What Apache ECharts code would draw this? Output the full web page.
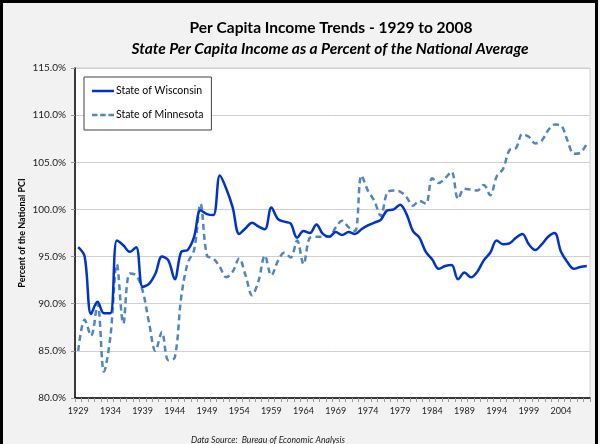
<!DOCTYPE html>
<html>
<head>
<meta charset="utf-8">
<script src="https://cdn.jsdelivr.net/npm/echarts@6/dist/echarts.min.js"></script>
<style>
html,body{margin:0;padding:0;background:#fff;}
#c{width:600px;height:444px;}
</style>
</head>
<body>
<div id="c"></div>
<script>
var startYear = 1929, endYear = 2008;
var years = [];
for (var y = startYear; y <= endYear; y++) years.push(String(y));

var wisconsin = [
 96.0, 95.0, 88.9, 90.2, 89.0, 89.0, 96.7, 96.2, 95.5, 96.0,
 91.8, 92.1, 93.2, 95.0, 94.6, 92.6, 95.5, 95.7, 97.1, 99.9,
 99.5, 99.4, 103.6, 102.2, 100.2, 97.4, 98.0, 98.6, 98.2, 97.9,
 100.2, 99.0, 98.7, 98.5, 97.0, 97.7, 97.5, 98.4, 97.4, 97.1,
 97.6, 97.3, 97.6, 97.4, 97.9, 98.3, 98.6, 98.9, 99.9, 100.0,
 100.5, 99.5, 97.7, 97.0, 95.5, 94.7, 93.7, 94.0, 94.1, 92.6,
 93.3, 92.8, 93.4, 94.6, 95.4, 96.7, 96.3, 96.4, 97.0, 97.4,
 96.3, 95.7, 96.3, 97.1, 97.5, 95.5, 94.4, 93.7, 93.9, 94.0
];
var minnesota = [
 85.0, 88.3, 86.6, 90.0, 82.8, 86.5, 94.2, 87.9, 93.2, 93.0,
 91.4, 88.0, 85.0, 87.0, 84.0, 84.3, 90.7, 94.3, 95.7, 100.6,
 95.1, 94.8, 93.9, 92.8, 93.4, 94.8, 93.0, 90.9, 92.4, 95.1,
 93.0, 94.5, 95.4, 94.9, 96.7, 94.2, 97.0, 97.1, 97.1, 97.1,
 98.1, 98.8, 98.1, 97.7, 103.6, 102.0, 100.9, 99.3, 101.8, 102.0,
 101.9, 101.3, 100.4, 100.9, 100.6, 103.3, 102.8, 103.3, 104.0, 101.1,
 102.2, 102.1, 102.0, 102.6, 101.5, 103.5, 104.3, 106.3, 106.5, 108.0,
 107.7, 107.0, 107.3, 108.4, 109.0, 108.9, 107.3, 105.9, 106.0, 107.0
];
var yMin = 80, yMax = 115, yStep = 5;
var titleText = 'Per Capita Income Trends - 1929 to 2008';
var subtitleText = 'State Per Capita Income as a Percent of the National Average';
var yAxisTitle = 'Percent of the National PCI';
var sourceText = 'Data Source:  Bureau of Economic Analysis';

var corners = ' M0,0h0.01v0.01h-0.01z M22,14h-0.01v-0.01h0.01z';
var iconSolid = 'path://M0,5.8h22v2.4h-22z' + corners;
var iconDash = 'path://M0,5.8h5.5v2.4h-5.5z M8.2,5.8h5.5v2.4h-5.5z M16.4,5.8h5.6v2.4h-5.6z' + corners;

var chart = echarts.init(document.getElementById('c'), null, {renderer: 'canvas'});
var font = 'Lato, "Liberation Sans", sans-serif';
chart.setOption({
  backgroundColor: '#f2f2f2',
  animation: false,
  textStyle: {fontFamily: font},
  title: [
    {text: titleText, left: 326, top: 15, textAlign: 'center',
     textStyle: {fontSize: 15.5, fontWeight: 'bold', color: '#000', fontFamily: font}},
    {text: subtitleText, left: 325, top: 36, textAlign: 'center',
     textStyle: {fontSize: 15.5, fontWeight: 'bold', fontStyle: 'italic', color: '#000', fontFamily: font}},
    {text: sourceText, left: 263, top: 431, textAlign: 'center',
     textStyle: {fontSize: 8.7, fontWeight: 'normal', fontStyle: 'italic', color: '#222', fontFamily: font}}
  ],
  graphic: [
    {type: 'rect', silent: true, z: 100,
     shape: {x: 1.5, y: 1.5, width: 595, height: 470},
     style: {fill: null, stroke: '#000', lineWidth: 3}}
  ],
  legend: {
    orient: 'vertical', left: 84, top: 77,
    backgroundColor: '#fff', borderColor: '#404040', borderWidth: 1,
    padding: [7, 8, 8, 8], itemGap: 10, itemWidth: 22, itemHeight: 14,
    textStyle: {fontSize: 10.5, color: '#000', fontFamily: font, padding: [0, 0, 0, -3]},
    data: [
      {name: 'State of Wisconsin', icon: iconSolid, itemStyle: {color: '#0033CC'}},
      {name: 'State of Minnesota', icon: iconDash, itemStyle: {color: '#4F86C0'}}
    ]
  },
  grid: {left: 75, top: 68, right: 10, bottom: 46, show: true,
         backgroundColor: '#fff', borderColor: '#d0d0d0', borderWidth: 1, containLabel: false},
  xAxis: {
    type: 'category', data: years, boundaryGap: true,
    axisLine: {lineStyle: {color: '#000', width: 1.5}},
    axisTick: {show: true, interval: 0, length: 4, lineStyle: {color: '#999'}},
    axisLabel: {interval: 4, fontSize: 9, color: '#222', margin: 9, fontFamily: font},
    splitLine: {show: false}
  },
  yAxis: {
    type: 'value', min: yMin, max: yMax, interval: yStep,
    name: yAxisTitle, nameLocation: 'middle', nameGap: 48, nameRotate: 90,
    nameMoveOverlap: false,
    nameTextStyle: {fontSize: 9, fontWeight: 'bold', color: '#000', fontFamily: font},
    axisLine: {show: true, lineStyle: {color: '#000', width: 1.5}},
    axisTick: {show: true, length: 4, lineStyle: {color: '#999'}},
    axisLabel: {fontSize: 10, color: '#222', margin: 9, fontFamily: font,
      formatter: function (v) { return v.toFixed(1) + '%'; }},
    splitLine: {lineStyle: {color: '#d0d0d0', width: 1}}
  },
  series: [
    {name: 'State of Wisconsin', type: 'line', data: wisconsin, smooth: 0.35,
     symbol: 'none', showSymbol: false, z: 3,
     lineStyle: {color: '#0033CC', width: 2.5}, itemStyle: {color: '#0033CC'}},
    {name: 'State of Minnesota', type: 'line', data: minnesota, smooth: 0.35,
     symbol: 'none', showSymbol: false, z: 2,
     lineStyle: {color: '#4F86C0', width: 2.5, type: [6, 4]}, itemStyle: {color: '#4F86C0'}}
  ]
});
</script>
</body>
</html>
